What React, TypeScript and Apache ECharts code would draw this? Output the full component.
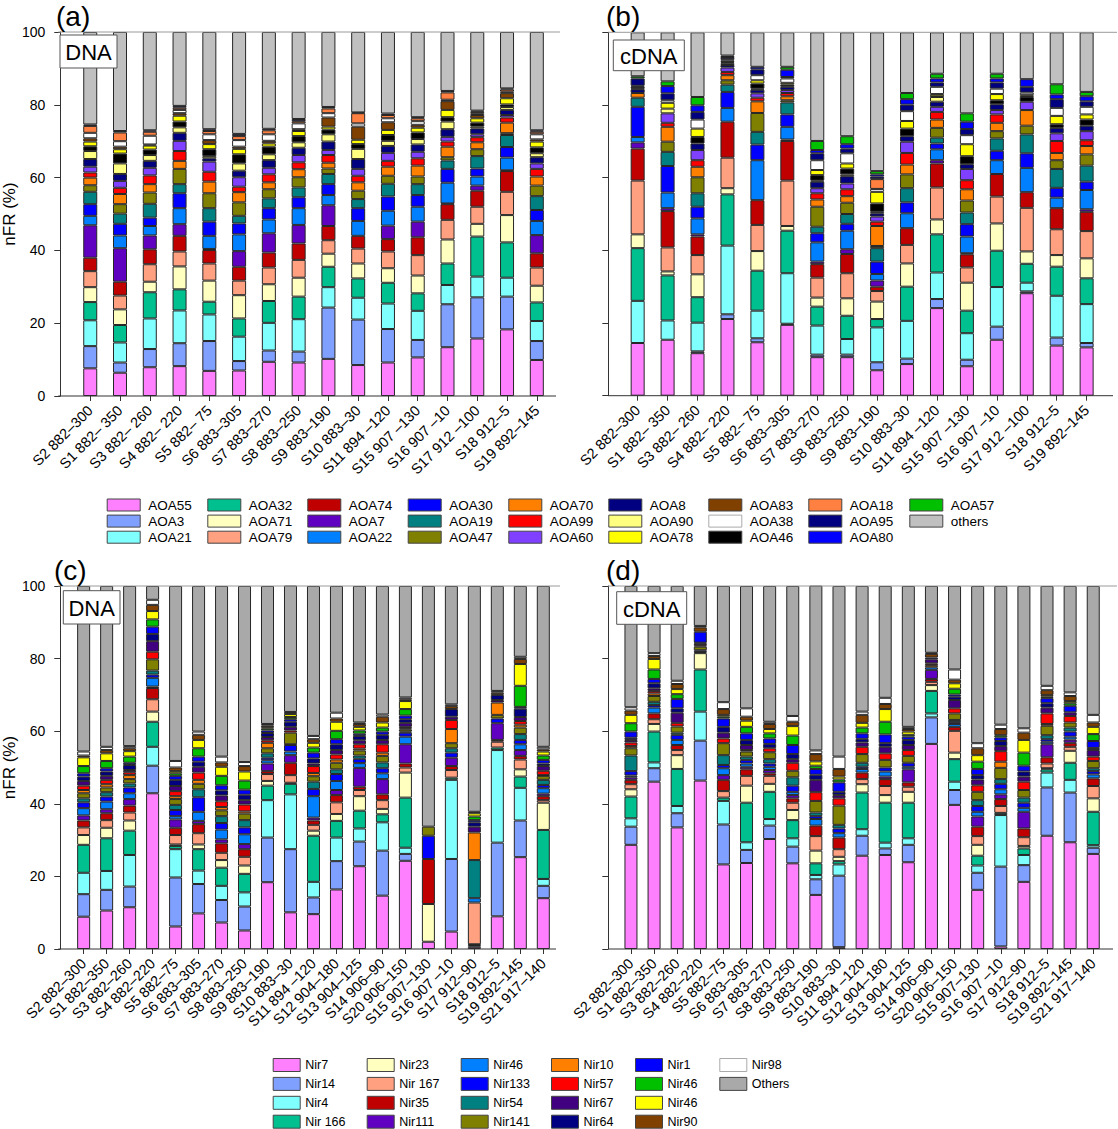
import React, { useEffect, useRef } from "react";
import * as echarts from "echarts";

const FONT = '"Liberation Sans", Arial, Helvetica, sans-serif';

// ---------- categories ----------
const aoaCategories = [
  "S2 882–300", "S1 882– 350", "S3 882– 260", "S4 882– 220", "S5 882– 75",
  "S6 883–305", "S7 883–270", "S8 883–250", "S9 883–190", "S10 883–30",
  "S11 894 –120", "S15 907 –130", "S16 907 –10", "S17 912 –100", "S18 912–5", "S19 892–145",
];
const nirCategories = [
  "S2 882–300", "S1 882–350", "S3 882–260", "S4 882–220", "S5 882–75",
  "S6 883–305", "S7 883–270", "S8 883–250", "S9 883–190", "S10 883–30",
  "S11 894 –120", "S12 904–180", "S13 904–125", "S14 906–90", "S20 906–150",
  "S15 907–130", "S16 907 –10", "S17 912–90", "S18 912–5", "S19 892–145", "S21 917–140",
];

// ---------- series (stack order, bottom -> top) ----------
const aoaNames = [
  "AOA55", "AOA3", "AOA21", "AOA32", "AOA71", "AOA79", "AOA74", "AOA7", "AOA22", "AOA30",
  "AOA19", "AOA47", "AOA70", "AOA99", "AOA60", "AOA8", "AOA90", "AOA46", "AOA78", "AOA83",
  "AOA38", "AOA18", "AOA95", "AOA80", "AOA57", "others",
];
const aoaColors = [
  "#FF80FF", "#80A0FF", "#80FFFF", "#00C090", "#FFFFC0", "#FFA080", "#C00000", "#6000C0", "#0080FF", "#0000FF",
  "#008080", "#808000", "#FF8000", "#FF0000", "#8040FF", "#000080", "#FFFF80", "#000000", "#FFFF00", "#804000",
  "#FFFFFF", "#FF8040", "#000080", "#0000FF", "#00C000", "#C0C0C0",
];
const nirNames = [
  "Nir7", "Nir14", "Nir4", "Nir 166", "Nir23", "Nir 167", "Nir35", "Nir111", "Nir46", "Nir133",
  "Nir54", "Nir141", "Nir10", "Nir57", "Nir67", "Nir64", "Nir1", "Nir46 ", "Nir46  ", "Nir90",
  "Nir98", "Others",
];
const nirColors = [
  "#FF80FF", "#80A0FF", "#80FFFF", "#00C090", "#FFFFC0", "#FFA080", "#C00000", "#6000C0", "#0080FF", "#0000FF",
  "#008080", "#808000", "#FF8000", "#FF0000", "#400080", "#000080", "#0000FF", "#00C000", "#FFFF00", "#804000",
  "#FFFFFF", "#A9A9A9",
];

// ---------- values (one row per sample, in stack order) ----------
// (a) AOA, DNA
const aoaDnaRows = [
  [7.6, 6.1, 7.1, 5.0, 4.1, 4.4, 3.7, 8.9, 2.6, 3.2, 3.4, 1.8, 2.1, 1.4, 1.6, 2.1, 2.2, 1.3, 1.3, 0.9, 1.5, 1.9, 0.4, 0, 0, 25.4],
  [6.4, 2.8, 5.5, 4.8, 4.3, 3.8, 3.8, 9.2, 3.5, 3.2, 2.8, 2.6, 2.8, 1.7, 1.9, 1.9, 2.9, 2.7, 1.2, 0.7, 1.5, 2.4, 0.4, 0, 0, 27.2],
  [7.9, 5.0, 8.4, 7.2, 2.9, 4.8, 4.1, 3.8, 2.6, 2.3, 3.8, 3.1, 2.3, 2.4, 2.1, 1.9, 1.6, 1.5, 1.1, 0.3, 2.4, 1.1, 0.4, 0, 0, 27.0],
  [8.2, 6.3, 9.0, 5.8, 6.3, 4.1, 4.3, 3.2, 4.4, 4.1, 2.5, 4.2, 2.2, 2.7, 2.8, 2.2, 1.5, 1.6, 1.6, 0.7, 0.9, 0.6, 0.5, 0, 0, 20.3],
  [6.9, 8.2, 7.3, 3.5, 5.8, 4.7, 3.7, 0.3, 3.6, 3.9, 3.7, 4.1, 3.2, 2.7, 2.8, 0.9, 0.6, 1.9, 1.4, 1.1, 1.6, 0.9, 0.5, 0, 0, 26.7],
  [7.0, 2.6, 6.7, 5.0, 6.4, 4.0, 3.8, 4.3, 4.6, 3.0, 2.1, 3.7, 2.8, 1.5, 2.6, 1.8, 2.0, 2.5, 1.5, 0.6, 1.8, 1.1, 0.6, 0, 0, 28.0],
  [9.4, 3.1, 7.6, 6.0, 4.6, 4.6, 4.1, 5.3, 3.8, 3.1, 2.7, 2.5, 1.9, 2.2, 1.8, 2.1, 1.6, 2.1, 0.9, 0.7, 1.8, 1.1, 0.4, 0, 0, 26.6],
  [9.2, 3.0, 8.9, 6.2, 5.2, 4.9, 4.5, 5.1, 4.6, 3.0, 2.7, 2.8, 2.2, 1.9, 2.0, 2.0, 1.5, 1.7, 1.4, 0.5, 1.6, 0.6, 0.6, 0, 0, 23.9],
  [10.2, 14.1, 5.6, 5.6, 3.6, 3.7, 3.9, 5.7, 2.8, 3.0, 2.8, 1.5, 1.6, 2.1, 1.4, 2.3, 2.0, 1.3, 0.8, 2.5, 1.2, 1.3, 0.4, 0, 0, 20.6],
  [8.5, 12.5, 6.0, 5.3, 4.1, 4.1, 3.5, 0, 4.1, 3.5, 2.5, 2.3, 2.3, 1.8, 1.9, 2.7, 2.8, 1.3, 1.2, 3.6, 0.9, 2.8, 0.2, 0, 0, 22.1],
  [9.2, 9.2, 7.0, 5.7, 4.0, 4.6, 3.4, 3.7, 4.1, 3.9, 3.5, 2.2, 2.5, 1.6, 2.2, 1.9, 1.4, 1.6, 1.4, 2.1, 1.1, 0.9, 0.4, 0, 0, 22.4],
  [10.6, 4.8, 8.0, 4.8, 4.9, 5.6, 4.9, 4.3, 4.1, 3.2, 3.0, 2.1, 3.0, 2.0, 1.8, 2.0, 1.5, 1.8, 1.3, 0.8, 1.0, 0.8, 0.3, 0, 0, 23.4],
  [13.4, 11.8, 5.3, 5.9, 6.6, 5.4, 4.3, 0.2, 5.7, 3.8, 2.3, 0.9, 2.9, 1.4, 1.3, 2.1, 2.1, 1.2, 2.0, 2.4, 0.4, 2.0, 0.4, 0, 0, 16.2],
  [15.8, 11.3, 5.7, 11.0, 3.5, 4.7, 4.4, 1.4, 2.5, 2.2, 3.4, 1.9, 1.9, 1.4, 0.8, 1.6, 0.5, 1.1, 1.2, 0.9, 0.5, 0.4, 0.3, 0, 0, 21.6],
  [18.3, 9.0, 5.2, 9.7, 7.5, 6.4, 5.7, 0.2, 3.5, 2.9, 3.3, 0.5, 2.9, 1.4, 0.7, 1.4, 0.8, 0.7, 1.7, 1.4, 0.4, 0.6, 0.3, 0, 0, 15.5],
  [9.9, 5.2, 5.5, 5.1, 4.6, 5.0, 3.9, 5.0, 3.9, 3.0, 3.8, 2.9, 2.5, 2.1, 1.5, 1.7, 1.1, 1.6, 1.6, 0.6, 1.4, 0.7, 0.4, 0, 0, 27.0],
];
// (b) AOA, cDNA
const aoaCdnaRows = [
  [14.5, 0, 11.6, 14.5, 3.8, 14.8, 8.8, 1.7, 1.5, 8.3, 2.5, 0, 1.3, 0, 0, 1.0, 0.2, 0.5, 0, 0, 0.3, 0, 2.0, 0, 0.6, 12.1],
  [15.4, 0, 5.3, 12.4, 1.1, 6.6, 10.0, 0.8, 4.3, 7.3, 3.9, 2.8, 4.1, 1.1, 2.6, 0, 1.3, 0, 1.6, 0, 0.7, 0, 1.9, 2.0, 1.3, 13.5],
  [11.7, 0.5, 7.9, 7.0, 6.3, 5.3, 5.1, 0.6, 4.4, 3.2, 3.7, 4.4, 2.9, 1.8, 2.8, 1.8, 0, 1.8, 2.3, 0, 2.5, 0, 2.1, 1.8, 2.3, 17.8],
  [21.1, 1.3, 18.9, 14.1, 1.7, 8.4, 9.9, 0, 3.8, 4.4, 2.0, 1.2, 1.4, 0.9, 1.2, 0.7, 0.5, 0.3, 0.4, 0, 0.4, 0, 0.6, 0.4, 0, 6.4],
  [14.7, 1.1, 7.6, 11.0, 5.4, 7.2, 6.8, 0, 11.0, 4.3, 3.5, 5.2, 3.2, 1.0, 1.2, 1.0, 0.3, 1.4, 0.9, 0, 1.4, 0, 1.6, 0.7, 0, 9.5],
  [19.5, 0.3, 13.9, 11.7, 1.3, 12.5, 10.9, 0.4, 3.5, 3.4, 3.3, 0.6, 1.1, 0.9, 0.8, 0.9, 0, 0.6, 0.5, 0, 1.2, 0, 0.4, 2.0, 0.8, 9.5],
  [10.6, 0.7, 8.0, 5.2, 2.5, 5.5, 3.7, 0.7, 5.3, 2.5, 1.8, 5.5, 2.0, 1.7, 1.4, 1.8, 0.3, 1.5, 1.4, 0, 2.7, 0, 1.9, 0.9, 2.5, 29.9],
  [10.6, 0.7, 4.3, 6.4, 4.8, 6.9, 5.3, 1.3, 5.1, 1.9, 2.7, 3.1, 1.8, 1.9, 1.6, 2.0, 0.5, 1.6, 1.4, 0, 2.8, 0, 1.3, 1.2, 2.2, 28.6],
  [7.0, 2.2, 9.6, 2.3, 4.8, 2.9, 1.2, 1.7, 1.8, 3.4, 3.7, 0.6, 5.5, 1.2, 1.4, 0.9, 0.4, 2.3, 3.2, 0, 0.8, 2.7, 0.7, 0.6, 0.9, 38.2],
  [8.7, 1.5, 10.4, 9.4, 6.4, 5.1, 4.6, 0, 4.1, 3.0, 3.9, 3.8, 2.7, 3.2, 3.1, 1.5, 0, 2.1, 2.1, 0, 2.7, 0, 1.8, 1.5, 1.7, 16.7],
  [24.1, 2.5, 7.3, 10.5, 4.1, 8.8, 6.6, 0.9, 3.0, 1.6, 1.6, 2.7, 2.3, 2.1, 1.4, 1.4, 1.3, 0.2, 0.6, 0, 2.0, 0, 1.2, 1.1, 1.3, 11.4],
  [8.1, 1.8, 7.3, 6.2, 7.7, 4.2, 3.6, 0.3, 4.6, 3.4, 3.2, 3.3, 3.1, 2.5, 3.1, 1.3, 0, 2.2, 3.3, 0, 2.5, 0, 1.7, 2.0, 2.3, 22.3],
  [15.4, 3.6, 10.9, 10.0, 7.5, 7.4, 6.2, 0, 3.8, 2.6, 3.4, 2.0, 2.3, 2.3, 1.2, 1.6, 0, 1.1, 1.7, 0, 1.5, 0, 1.7, 1.1, 1.3, 11.4],
  [28.2, 0.5, 2.4, 5.2, 3.4, 12.0, 4.3, 0, 6.7, 4.0, 5.2, 2.4, 4.3, 0, 2.3, 0, 0, 1.3, 0.5, 0, 0.7, 0, 1.6, 2.1, 0, 12.9],
  [13.8, 2.2, 11.5, 8.0, 3.2, 7.1, 5.8, 0, 2.9, 2.7, 5.2, 2.4, 2.0, 3.3, 2.1, 1.5, 0, 1.0, 2.3, 0, 2.2, 0, 2.4, 1.3, 2.8, 14.3],
  [13.3, 1.2, 10.7, 7.1, 5.5, 7.5, 5.3, 0.7, 5.3, 2.3, 4.4, 3.1, 2.3, 1.6, 2.5, 1.5, 0, 1.7, 1.4, 0, 2.1, 0, 1.5, 1.4, 1.2, 16.4],
];
// (c) nirS, DNA
const nirDnaRows = [
  [8.9, 6.2, 5.9, 7.7, 2.7, 2.1, 1.9, 1.4, 2.0, 1.6, 1.1, 1.4, 0.9, 1.2, 1.3, 1.2, 0.9, 2.0, 2.4, 0.5, 1.1, 45.6],
  [10.6, 5.7, 5.2, 9.0, 2.9, 2.1, 1.9, 1.1, 2.1, 1.4, 1.2, 1.3, 0.9, 1.2, 1.1, 1.2, 0.9, 2.0, 2.1, 0.9, 0.9, 44.3],
  [11.5, 5.7, 8.7, 6.7, 2.8, 2.2, 1.9, 1.8, 1.6, 1.6, 1.1, 1.2, 1.1, 0.8, 0.6, 1.4, 0.6, 1.7, 1.5, 0.8, 0.6, 44.1],
  [42.9, 7.6, 5.2, 6.9, 2.8, 3.4, 3.1, 0.4, 2.4, 0.9, 1.1, 3.1, 0, 2.1, 2.9, 2.0, 2.0, 2.0, 2.3, 1.7, 1.4, 3.8],
  [6.2, 13.5, 7.8, 0.9, 0.4, 2.6, 2.0, 2.3, 0.9, 1.7, 1.4, 1.6, 0.8, 1.4, 1.4, 1.7, 1.1, 0.7, 0.6, 1.0, 1.8, 48.2],
  [9.8, 8.1, 3.7, 5.9, 1.3, 3.1, 2.5, 0.9, 2.5, 4.0, 2.2, 1.5, 1.1, 2.0, 1.6, 1.4, 1.4, 2.3, 2.3, 1.4, 0.9, 40.1],
  [7.3, 6.2, 3.9, 5.0, 2.1, 2.0, 2.6, 1.1, 2.7, 1.8, 1.9, 1.6, 0.9, 1.6, 1.6, 1.4, 1.4, 2.6, 2.5, 1.2, 1.6, 47.0],
  [5.1, 6.6, 3.9, 5.1, 2.3, 2.4, 2.1, 1.4, 2.7, 1.9, 2.0, 1.8, 0.6, 1.9, 1.2, 1.5, 1.4, 2.5, 2.5, 1.5, 1.1, 48.5],
  [18.4, 12.3, 10.3, 4.0, 1.3, 1.9, 0.8, 2.1, 0.9, 0.7, 1.2, 1.4, 1.5, 0.7, 0.9, 1.1, 0.7, 0.5, 0.4, 0.5, 0.4, 38.0],
  [10.1, 17.4, 15.1, 2.9, 0.3, 2.1, 3.4, 2.1, 1.0, 1.8, 0.2, 3.2, 0, 0.6, 1.0, 1.4, 0.7, 0.6, 0.8, 0.2, 0.4, 34.9],
  [9.6, 4.6, 4.3, 12.7, 1.4, 1.6, 1.2, 0.8, 5.9, 2.0, 2.0, 1.5, 0.9, 1.9, 0.7, 1.4, 1.6, 1.4, 1.3, 1.0, 0.9, 41.3],
  [16.4, 7.8, 6.5, 4.6, 1.9, 3.2, 2.0, 1.4, 2.5, 1.9, 1.3, 1.8, 0.9, 1.4, 1.2, 1.6, 1.4, 2.3, 2.5, 0.9, 1.6, 34.9],
  [22.8, 6.8, 3.6, 4.9, 4.0, 1.7, 0.9, 5.2, 1.3, 1.2, 0.9, 1.4, 0.5, 1.2, 1.1, 1.2, 0.6, 0.9, 1.0, 0.8, 0.4, 37.6],
  [14.7, 12.4, 7.8, 2.2, 1.5, 2.4, 1.6, 4.2, 1.6, 1.4, 1.6, 1.8, 0.9, 2.3, 1.2, 1.4, 0.9, 1.1, 1.4, 1.6, 0.6, 35.4],
  [24.3, 1.9, 1.7, 13.8, 6.9, 1.4, 1.1, 5.3, 2.1, 1.1, 0.3, 0.6, 0.3, 0.4, 1.1, 1.0, 1.0, 1.8, 2.2, 0.5, 0.5, 30.7],
  [2.0, 0, 0, 0, 10.4, 0, 12.4, 0, 0, 6.4, 0, 2.5, 0, 0, 0, 0, 0, 0, 0, 0, 0, 66.3],
  [4.8, 20.0, 21.8, 0.6, 0, 2.1, 1.1, 2.3, 0, 1.4, 1.2, 1.4, 3.9, 2.5, 0.9, 2.1, 0, 0, 0, 0.8, 0.5, 32.6],
  [0.6, 0, 0.5, 0.2, 0, 11.5, 0, 0, 1.2, 0, 10.5, 0, 7.6, 0, 1.6, 1.2, 0.6, 1.0, 0.9, 0.4, 0, 62.2],
  [9.0, 20.3, 25.5, 0.7, 0, 1.6, 0.5, 4.6, 0, 1.3, 0, 1.0, 3.4, 0, 0.7, 1.4, 0, 0, 0, 0.6, 0.5, 28.9],
  [25.3, 10.1, 9.0, 3.1, 2.0, 2.7, 1.0, 1.6, 1.6, 1.2, 1.6, 1.8, 0.8, 1.0, 1.1, 2.3, 0.5, 5.8, 6.0, 1.4, 0.6, 19.5],
  [14.0, 3.4, 1.9, 13.5, 7.5, 0.7, 1.1, 0.7, 1.5, 0.9, 1.4, 1.1, 0.2, 1.2, 1.3, 0.7, 1.0, 1.2, 1.1, 0.6, 0.7, 44.3],
];
// (d) nirS, cDNA
const nirCdnaRows = [
  [28.7, 5.0, 2.3, 6.0, 2.0, 1.4, 1.2, 0.7, 0.5, 1.2, 4.3, 2.0, 0.6, 1.0, 0.7, 0.6, 1.7, 2.3, 2.3, 1.2, 0.9, 33.4],
  [46.1, 3.7, 1.6, 8.5, 2.1, 1.3, 1.6, 0, 1.6, 0.7, 0.9, 1.6, 0.7, 0.7, 0.7, 1.4, 1.2, 2.6, 2.9, 0.8, 0.8, 18.5],
  [33.5, 3.9, 2.0, 10.2, 3.8, 1.4, 1.4, 0, 1.4, 1.4, 0.6, 1.7, 0, 1.0, 2.8, 1.2, 2.6, 1.3, 1.4, 1.4, 0.9, 26.1],
  [46.4, 11.0, 8.0, 11.6, 4.5, 0, 0.3, 0, 0, 0.5, 0, 1.0, 0, 0.4, 0.5, 0.2, 3.0, 0, 0, 1.2, 0.4, 11.0],
  [23.3, 11.0, 6.5, 0.9, 0, 1.8, 3.1, 1.3, 1.9, 0.9, 2.7, 3.3, 0, 1.3, 1.6, 1.6, 2.3, 0.5, 0.5, 1.6, 1.9, 32.0],
  [23.7, 3.6, 2.1, 10.9, 4.7, 2.7, 1.8, 0.7, 0.9, 1.0, 0.9, 1.4, 0, 0.4, 1.4, 1.4, 1.8, 1.8, 1.7, 1.1, 2.3, 33.7],
  [30.3, 3.7, 1.8, 7.5, 2.2, 2.2, 0.7, 0.9, 0.9, 0.9, 1.2, 1.9, 0, 1.1, 0, 1.2, 1.5, 1.4, 1.2, 1.4, 0.6, 37.4],
  [23.6, 4.6, 2.3, 5.0, 2.8, 2.0, 1.2, 0.9, 0.9, 1.7, 2.3, 1.8, 0, 2.2, 1.0, 1.4, 2.5, 2.6, 2.6, 1.2, 1.6, 35.8],
  [14.9, 4.3, 1.2, 3.2, 3.5, 4.0, 2.9, 0, 1.8, 0.8, 1.0, 3.2, 0, 2.4, 3.4, 1.4, 1.6, 0.9, 1.2, 2.0, 1.0, 45.4],
  [0.5, 19.7, 3.1, 0.9, 1.2, 2.1, 3.2, 0, 1.2, 1.3, 1.0, 5.3, 0, 2.0, 0.9, 0.9, 2.6, 0.8, 0.8, 2.1, 3.4, 47.0],
  [25.7, 5.5, 1.8, 10.1, 2.3, 1.4, 1.8, 0, 1.0, 0.6, 1.1, 2.4, 0, 2.0, 1.2, 1.0, 1.5, 1.6, 1.3, 2.2, 0.9, 34.6],
  [25.9, 1.8, 1.6, 11.0, 2.1, 2.5, 1.9, 0.7, 1.4, 1.1, 0, 2.1, 0, 1.8, 1.8, 1.0, 2.4, 3.5, 3.5, 1.4, 1.7, 30.8],
  [23.9, 4.8, 1.8, 9.8, 3.0, 1.4, 1.2, 3.6, 0.7, 1.1, 0, 1.9, 0, 1.6, 1.4, 1.4, 0.9, 0.5, 0.9, 0.7, 0.6, 38.8],
  [56.5, 7.3, 1.1, 6.2, 1.6, 0.9, 0.8, 2.5, 0.7, 0, 0, 0, 0.6, 0.5, 1.1, 0.5, 0, 0, 0, 1.0, 0.3, 18.4],
  [39.7, 4.1, 2.3, 6.2, 1.8, 6.0, 1.1, 0, 0.8, 0.5, 0.6, 1.8, 0, 1.4, 2.3, 0.9, 0.6, 1.6, 1.5, 1.0, 2.8, 23.0],
  [16.3, 4.7, 2.0, 2.7, 3.0, 2.4, 2.6, 2.8, 1.3, 1.6, 1.6, 2.3, 0, 1.8, 1.6, 1.2, 1.7, 2.0, 1.8, 1.9, 1.4, 43.3],
  [0.7, 22.0, 14.2, 0.6, 0, 1.9, 1.9, 1.3, 1.4, 1.5, 1.3, 3.1, 1.7, 2.9, 1.4, 1.4, 1.0, 0.6, 0, 1.7, 1.2, 38.2],
  [18.5, 4.6, 2.8, 1.8, 0.7, 2.4, 2.4, 4.6, 1.1, 1.4, 1.4, 2.1, 0, 2.3, 1.4, 1.4, 1.6, 3.6, 3.5, 2.0, 1.2, 39.2],
  [31.2, 13.3, 4.1, 0.9, 0.3, 1.3, 1.7, 3.6, 0.7, 0.7, 1.1, 2.6, 0.5, 2.9, 1.6, 1.2, 1.4, 0.4, 0.5, 1.3, 1.2, 27.5],
  [29.4, 13.7, 3.5, 4.7, 3.3, 1.1, 1.1, 0.9, 0.8, 1.4, 1.1, 1.4, 0, 1.8, 1.0, 0, 1.8, 0.7, 0.6, 1.4, 1.0, 29.3],
  [26.2, 1.7, 0.7, 9.2, 3.7, 3.4, 2.1, 0, 1.1, 0.9, 0.8, 2.0, 0, 1.2, 1.8, 0.6, 1.9, 1.9, 2.0, 1.2, 2.1, 35.5],
];

// ---------- legend columns ----------
const aoaLegendColumns = [
  ["AOA55", "AOA3", "AOA21"], ["AOA32", "AOA71", "AOA79"], ["AOA74", "AOA7", "AOA22"],
  ["AOA30", "AOA19", "AOA47"], ["AOA70", "AOA99", "AOA60"], ["AOA8", "AOA90", "AOA78"],
  ["AOA83", "AOA38", "AOA46"], ["AOA18", "AOA95", "AOA80"], ["AOA57", "others"],
];
const nirLegendColumns = [
  ["Nir7", "Nir14", "Nir4", "Nir 166"], ["Nir23", "Nir 167", "Nir35", "Nir111"],
  ["Nir46", "Nir133", "Nir54", "Nir141"], ["Nir10", "Nir57", "Nir67", "Nir64"],
  ["Nir1", "Nir46 ", "Nir46  ", "Nir90"], ["Nir98", "Others"],
];

// ---------- layout ----------
const AOA_LEGEND_X = [106.7, 207.3, 307.3, 407.7, 508.3, 608.3, 708.3, 808.3, 909.3];
const NIR_LEGEND_X = [272.7, 366.7, 460.7, 551, 635, 719.3];

const GRIDS = [
  { left: 73.4, top: 32, width: 478.3, height: 364 },
  { left: 622.7, top: 32.3, width: 478.9, height: 363.4 },
  { left: 70.2, top: 586, width: 484.6, height: 363 },
  { left: 619.4, top: 586, width: 485.4, height: 363 },
];
const AXIS_X = [58.3, 608.3, 58.3, 608.3];
const RIGHT_X = [560, 1117, 560, 1117];

function makeSeries(names: string[], colors: string[], rows: number[][], idx: number, barWidth: number) {
  return names.map((name, j) => ({
    type: "bar",
    name,
    stack: "panel" + idx,
    xAxisIndex: idx,
    yAxisIndex: idx,
    barWidth,
    data: rows.map((r) => (r[j] ? r[j] : null)),
    itemStyle: { color: colors[j], borderColor: "#262626", borderWidth: 1 },
    emphasis: { disabled: true },
    silent: true,
  }));
}

function makeXAxis(idx: number, cats: string[]) {
  return {
    type: "category",
    gridIndex: idx,
    data: cats,
    axisLine: { show: false },
    axisTick: { show: true, alignWithLabel: true, length: 5, lineStyle: { color: "#333", width: 1 } },
    axisLabel: { interval: 0, rotate: 45, fontSize: 14.5, color: "#000", fontFamily: FONT, margin: 12 },
    splitLine: { show: false },
  };
}

function makeYAxis(idx: number, showLabels: boolean) {
  return {
    type: "value",
    gridIndex: idx,
    min: 0,
    max: 100,
    interval: 20,
    offset: GRIDS[idx].left - AXIS_X[idx],
    axisLine: { show: true, lineStyle: { color: "#333", width: 1 } },
    axisTick: { show: true, length: 6, lineStyle: { color: "#333", width: 1 } },
    splitLine: { show: false },
    axisLabel: { show: showLabels, fontSize: 14, color: "#000", fontFamily: FONT, margin: 15 },
    name: showLabels ? "nFR (%)" : "",
    nameLocation: "middle",
    nameGap: 37,
    nameTextStyle: { fontSize: 17, color: "#000", fontFamily: FONT },
  };
}

function legendItem(name: string) {
  if (name === "AOA38" || name === "Nir98") return { name, itemStyle: { borderColor: "#aaaaaa" } };
  return { name };
}

const legends = [
  ...aoaLegendColumns.map((col, i) => ({
    orient: "vertical",
    left: AOA_LEGEND_X[i],
    top: 498,
    height: 60,
    padding: 0,
    itemWidth: 33,
    itemHeight: 12,
    itemGap: 2.1,
    icon: "rect",
    selectedMode: false,
    itemStyle: { borderColor: "#444", borderWidth: 1 },
    textStyle: { fontSize: 13.5, color: "#000", fontFamily: FONT, lineHeight: 12, padding: [0, 0, 0, 3] },
    formatter: (n: string) => n.trim(),
    data: col.map(legendItem),
  })),
  ...nirLegendColumns.map((col, i) => ({
    orient: "vertical",
    left: NIR_LEGEND_X[i],
    top: 1058,
    height: 90,
    padding: 0,
    itemWidth: 27,
    itemHeight: 13,
    itemGap: 4.9,
    icon: "rect",
    selectedMode: false,
    itemStyle: { borderColor: "#444", borderWidth: 1 },
    textStyle: { fontSize: 12.5, color: "#000", fontFamily: FONT, lineHeight: 13 },
    formatter: (n: string) => n.trim(),
    data: col.map(legendItem),
  })),
];

function frameLines(i: number) {
  const g = GRIDS[i];
  const bottom = g.top + g.height;
  return [
    {
      type: "line",
      z: 50,
      shape: { x1: AXIS_X[i], y1: g.top, x2: RIGHT_X[i], y2: g.top },
      style: { stroke: "#9a9a9a", lineWidth: 1 },
    },
    {
      type: "line",
      z: 50,
      shape: { x1: AXIS_X[i], y1: bottom, x2: RIGHT_X[i] - 4, y2: bottom },
      style: { stroke: "#333", lineWidth: 1 },
    },
  ];
}

function tagBox(x: number, y: number, w: number, h: number, label: string) {
  return [
    { type: "rect", z: 60, shape: { x, y, width: w, height: h }, style: { fill: "#fff", stroke: "#555", lineWidth: 1 } },
    {
      type: "text",
      z: 61,
      x: x + w / 2,
      y: y + h / 2 + 1,
      style: { text: label, fontSize: 22, fontFamily: FONT, fill: "#000", align: "center", verticalAlign: "middle" },
    },
  ];
}

function panelLabel(x: number, y: number, label: string) {
  return {
    type: "text",
    z: 61,
    x,
    y,
    style: { text: label, fontSize: 28, fontFamily: FONT, fill: "#000", align: "left", verticalAlign: "middle" },
  };
}

const option = {
  animation: false,
  textStyle: { fontFamily: FONT },
  grid: GRIDS,
  xAxis: [
    makeXAxis(0, aoaCategories),
    makeXAxis(1, aoaCategories),
    makeXAxis(2, nirCategories),
    makeXAxis(3, nirCategories),
  ],
  yAxis: [makeYAxis(0, true), makeYAxis(1, false), makeYAxis(2, true), makeYAxis(3, false)],
  legend: legends,
  series: [
    ...makeSeries(aoaNames, aoaColors, aoaDnaRows, 0, 14),
    ...makeSeries(aoaNames, aoaColors, aoaCdnaRows, 1, 14),
    ...makeSeries(nirNames, nirColors, nirDnaRows, 2, 13),
    ...makeSeries(nirNames, nirColors, nirCdnaRows, 3, 13),
  ],
  graphic: [
    ...frameLines(0),
    ...frameLines(1),
    ...frameLines(2),
    ...frameLines(3),
    ...tagBox(60, 35, 57, 33, "DNA"),
    ...tagBox(613.3, 40, 71, 30.7, "cDNA"),
    ...tagBox(63.3, 590.7, 56.7, 33.3, "DNA"),
    ...tagBox(616.7, 591.7, 70, 32.6, "cDNA"),
    panelLabel(56, 16, "(a)"),
    panelLabel(606, 16, "(b)"),
    panelLabel(54, 570, "(c)"),
    panelLabel(606, 570, "(d)"),
  ],
};

export default function App() {
  const ref = useRef<HTMLDivElement>(null);
  useEffect(() => {
    if (!ref.current) return;
    const chart = echarts.init(ref.current, null, { renderer: "svg" });
    chart.setOption(option as any);
    return () => {
      chart.dispose();
    };
  }, []);
  return (
    <div
      ref={ref}
      style={{ position: "absolute", left: 0, top: 0, width: 1118, height: 1129, background: "#fff" }}
    />
  );
}
